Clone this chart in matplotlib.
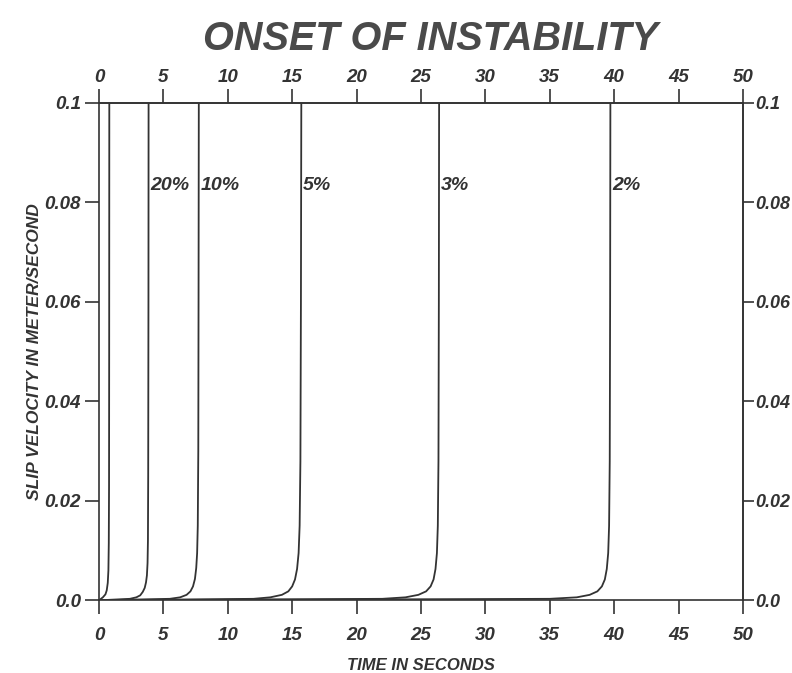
import matplotlib.pyplot as plt
import matplotlib as mpl

mpl.rcParams['font.family'] = ['Liberation Sans', 'DejaVu Sans']
mpl.rcParams['font.weight'] = 'bold'
mpl.rcParams['font.style'] = 'italic'

INK = '#333333'

# time (s) and slip velocity (m/s), one pair per curve
t_a = [0.0, 0.3, 0.5, 0.6, 0.68, 0.73, 0.76, 0.78, 0.79, 0.80]
v_a = [0.0, 0.0006, 0.0012, 0.002, 0.0035, 0.006, 0.0115, 0.023, 0.05, 0.1]

t_20 = [0.0, 2.4, 2.9, 3.2, 3.4, 3.55, 3.65, 3.72, 3.77, 3.8, 3.82, 3.84, 3.85]
v_20 = [0.0, 0.0003, 0.0006, 0.001, 0.0017, 0.0025, 0.0036, 0.005, 0.0075, 0.012, 0.025, 0.06, 0.1]

t_10 = [0.0, 5.5, 6.3, 6.8, 7.1, 7.3, 7.45, 7.55, 7.62, 7.67, 7.71, 7.73, 7.75]
v_10 = [0.0, 0.0003, 0.0006, 0.0011, 0.0018, 0.0028, 0.0043, 0.0065, 0.0095, 0.015, 0.03, 0.06, 0.1]

t_5 = [0.0, 12.0, 13.3, 14.2, 14.7, 15.0, 15.22, 15.38, 15.5, 15.58, 15.64, 15.68, 15.71]
v_5 = [0.0, 0.0003, 0.0006, 0.0011, 0.0018, 0.0028, 0.0042, 0.0063, 0.0095, 0.015, 0.028, 0.06, 0.1]

t_3 = [0.0, 22.0, 23.8, 24.8, 25.4, 25.75, 25.98, 26.13, 26.24, 26.31, 26.36, 26.39, 26.41]
v_3 = [0.0, 0.0003, 0.0006, 0.0011, 0.0018, 0.0028, 0.0042, 0.0063, 0.0095, 0.015, 0.028, 0.06, 0.1]

t_2 = [0.0, 35.0, 37.1, 38.1, 38.7, 39.05, 39.28, 39.43, 39.54, 39.61, 39.66, 39.69, 39.71]
v_2 = [0.0, 0.0003, 0.0006, 0.0011, 0.0018, 0.0028, 0.0042, 0.0063, 0.0095, 0.015, 0.028, 0.06, 0.1]

labels = ['', '20%', '10%', '5%', '3%', '2%']
curves = [(t_a, v_a), (t_20, v_20), (t_10, v_10), (t_5, v_5), (t_3, v_3), (t_2, v_2)]

xticks = [0, 5, 10, 15, 20, 25, 30, 35, 40, 45, 50]
yticks = [0.0, 0.02, 0.04, 0.06, 0.08, 0.1]
ytick_labels = ['0.0', '0.02', '0.04', '0.06', '0.08', '0.1']

fig = plt.figure(figsize=(7.92, 6.73), dpi=100)
ax = fig.add_axes([0.125, 0.108, 0.813, 0.739])

for (t, v), lab in zip(curves, labels):
    ax.plot(t, v, color=INK, lw=1.3)
    if lab:
        ax.text(t[-1] + 0.15, 0.0835, lab, color=INK, fontsize=14,
                ha='left', va='center')

ax.set_xlim(0, 50)
ax.set_ylim(0, 0.1)
ax.set_xticks(xticks)
ax.set_xticklabels([str(x) for x in xticks])
ax.set_yticks(yticks)
ax.set_yticklabels(ytick_labels)

ax.tick_params(direction='out', length=10, width=1.2, color=INK,
               labelcolor=INK, labelsize=13.5)
ax.tick_params(axis='x', pad=9)
ax.tick_params(axis='y', pad=3)
for s in ax.spines.values():
    s.set_color(INK)
    s.set_linewidth(1.2)

# top and right scales repeat the bottom and left ones
top = ax.secondary_xaxis('top')
top.set_xticks(xticks)
top.set_xticklabels([str(x) for x in xticks])
top.tick_params(direction='out', length=10, width=1.2, color=INK,
                labelcolor=INK, labelsize=13.5, pad=2)
right = ax.secondary_yaxis('right')
right.set_yticks(yticks)
right.set_yticklabels(ytick_labels)
right.tick_params(direction='out', length=8, width=1.2, color=INK,
                  labelcolor=INK, labelsize=13, pad=1)
for sec in (top, right):
    for s in sec.spines.values():
        s.set_color(INK)
        s.set_linewidth(1.2)

ax.set_xlabel('TIME IN SECONDS', fontsize=12, fontweight='bold', color=INK, labelpad=10)
ax.set_ylabel('SLIP VELOCITY IN METER/SECOND', fontsize=12.5, fontweight='bold',
              color=INK, labelpad=2)
fig.text(0.543, 0.942, 'ONSET OF INSTABILITY', fontsize=28.5, color='#4a4a4a',
         ha='center', va='center')

fig.savefig('out.png', dpi=100)
